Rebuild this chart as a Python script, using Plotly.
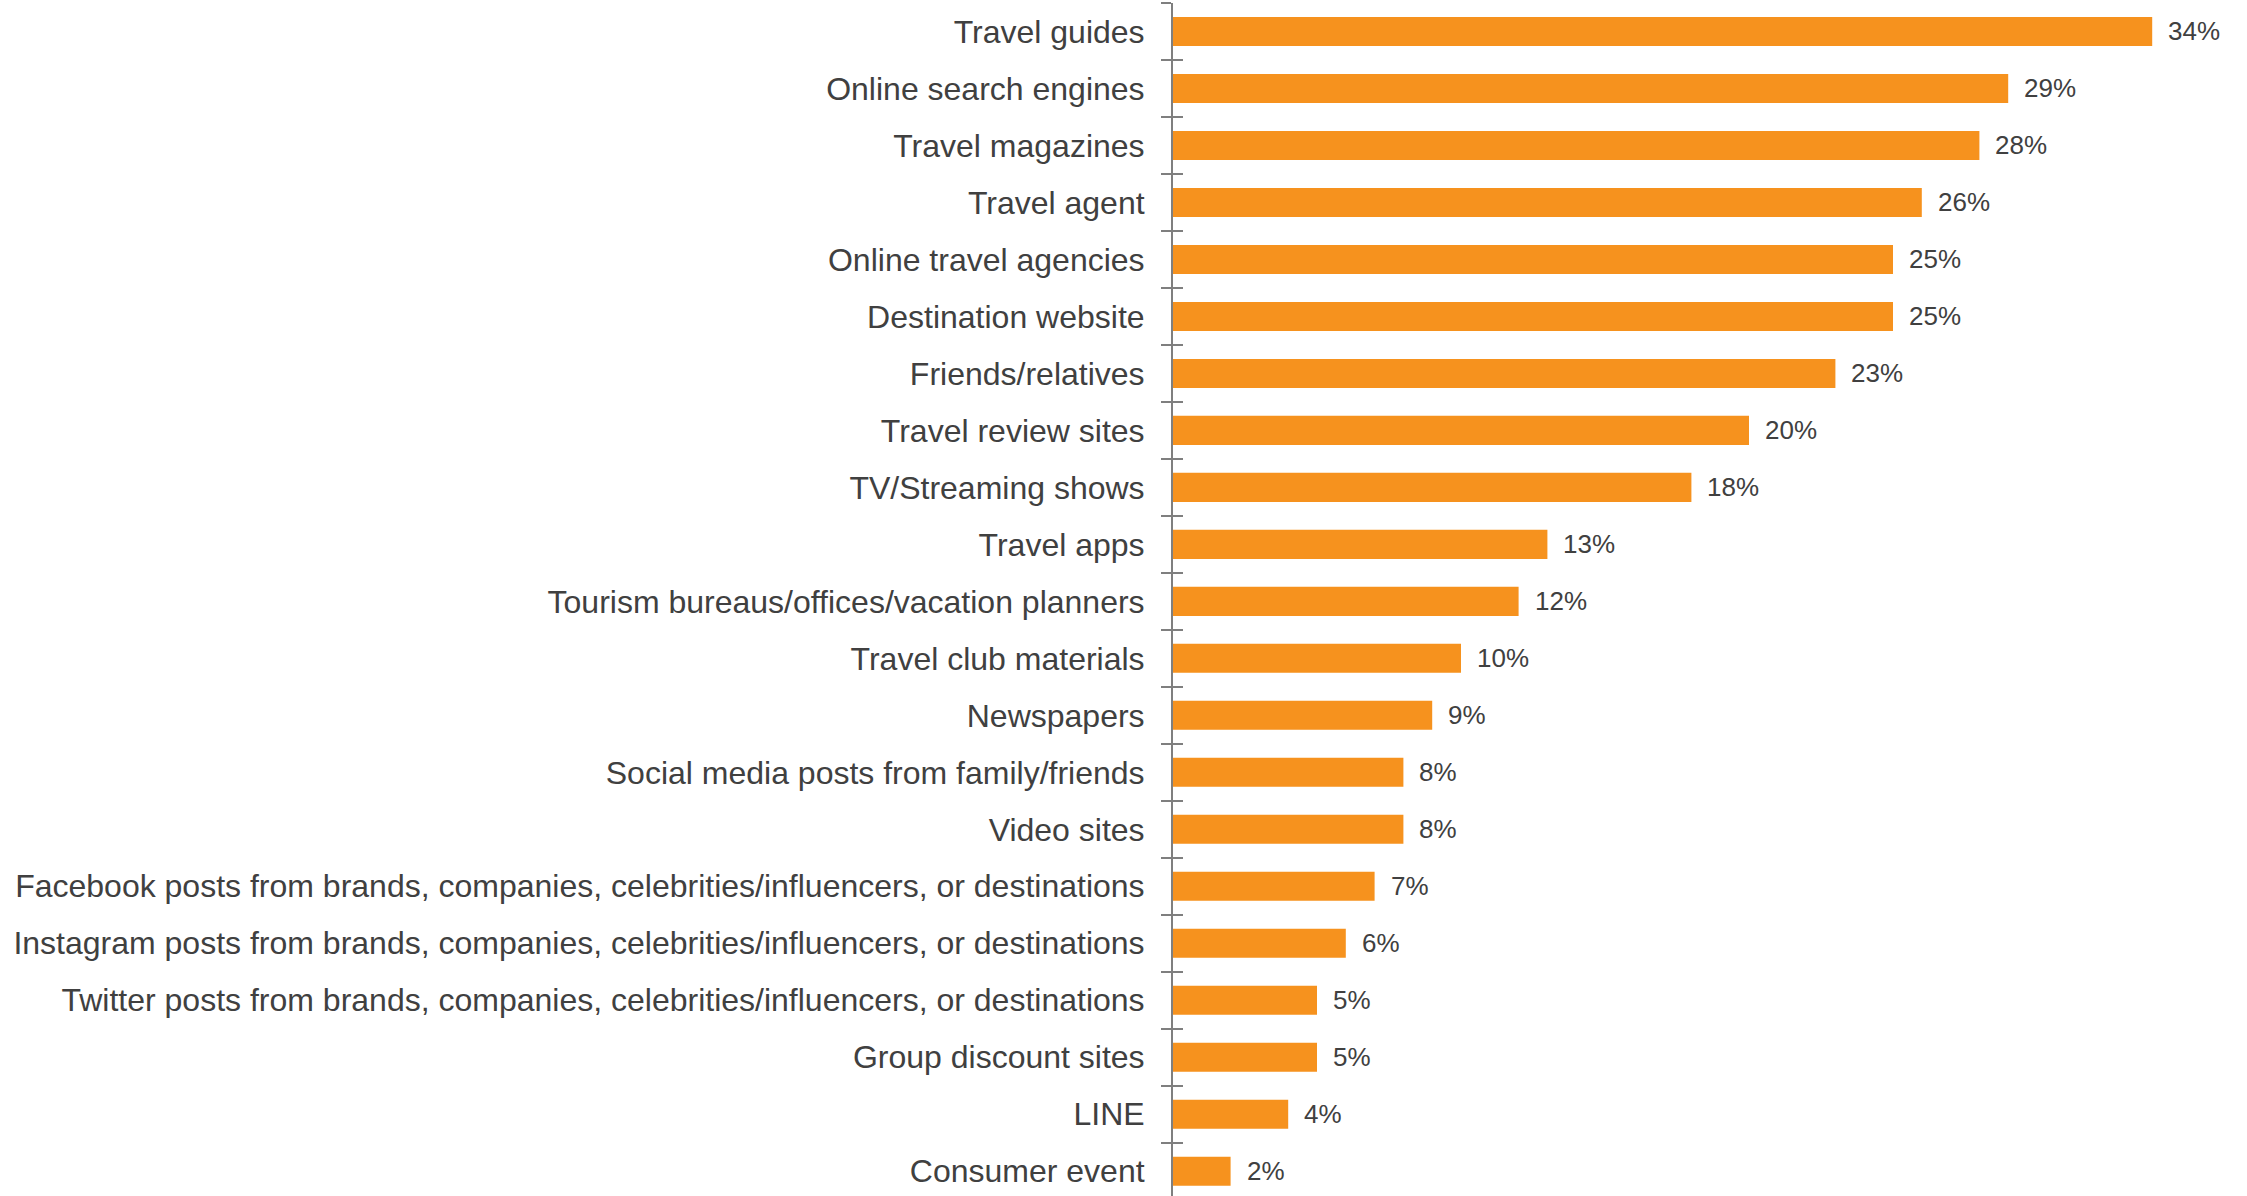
import plotly.graph_objects as go

categories = [
    "Travel guides",
    "Online search engines",
    "Travel magazines",
    "Travel agent",
    "Online travel agencies",
    "Destination website",
    "Friends/relatives",
    "Travel review sites",
    "TV/Streaming shows",
    "Travel apps",
    "Tourism bureaus/offices/vacation planners",
    "Travel club materials",
    "Newspapers",
    "Social media posts from family/friends",
    "Video sites",
    "Facebook posts from brands, companies, celebrities/influencers, or destinations",
    "Instagram posts from brands, companies, celebrities/influencers, or destinations",
    "Twitter posts from brands, companies, celebrities/influencers, or destinations",
    "Group discount sites",
    "LINE",
    "Consumer event",
]
values = [34, 29, 28, 26, 25, 25, 23, 20, 18, 13, 12, 10, 9, 8, 8, 7, 6, 5, 5, 4, 2]
value_labels = [f"{v}%" for v in values]

n = len(categories)
FONT = "Liberation Sans, Arial, sans-serif"
TEXT = "#404040"
GRAY = "#7f7f7f"

fig = go.Figure()
fig.add_trace(go.Bar(
    x=values, y=categories, orientation="h",
    marker=dict(color="#F6921E", line=dict(width=0)),
    width=0.51, hoverinfo="x+y",
))
# invisible trace to host the overlay axis (crossing ticks)
fig.add_trace(go.Scatter(x=[0], y=[0], yaxis="y2", mode="markers",
                         marker=dict(opacity=0), showlegend=False, hoverinfo="skip"))

for c, v, t in zip(categories, values, value_labels):
    fig.add_annotation(x=v, y=c, text=t, showarrow=False, xanchor="left",
                       xshift=14, font=dict(family=FONT, size=26, color=TEXT))

yrange = [n - 0.565, -0.5]
fig.update_layout(
    width=2247, height=1196,
    margin=dict(l=1173, r=66, t=3, b=0),
    plot_bgcolor="white", paper_bgcolor="white",
    showlegend=False,
    font=dict(family=FONT, color=TEXT),
    xaxis=dict(range=[0, 35], visible=False, fixedrange=True),
    yaxis=dict(
        type="category", categoryorder="array", categoryarray=categories,
        range=yrange,
        showline=True, linecolor=GRAY, linewidth=2,
        ticks="outside", ticklen=10, tickwidth=2, tickcolor=GRAY,
        tickson="boundaries",
        tickfont=dict(family=FONT, size=32, color=TEXT),
        ticklabelstandoff=20,
        showgrid=False, zeroline=False,
    ),
    yaxis2=dict(
        overlaying="y", anchor="x", side="left",
        range=yrange,
        tickmode="array", tickvals=[i - 0.5 for i in range(n + 1)],
        ticks="inside", ticklen=10, tickwidth=2, tickcolor=GRAY,
        showticklabels=False, showgrid=False, zeroline=False, showline=False,
    ),
)

fig.write_html("out.html", config={"displayModeBar": False},
               post_script="document.body.style.margin='0';")
